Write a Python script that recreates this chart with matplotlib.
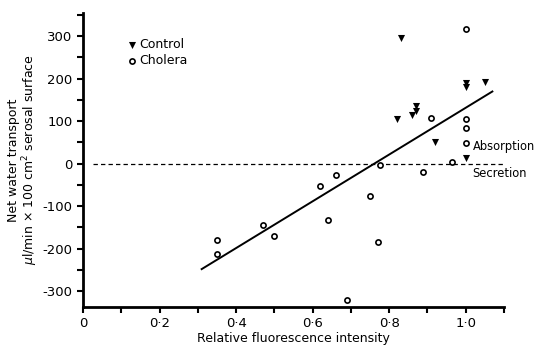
import numpy as np
import matplotlib
matplotlib.use("Agg")
import matplotlib.pyplot as plt

# values
control_x = [0.83, 1.00, 1.00, 1.05, 0.87, 0.87, 0.86, 0.82, 0.92, 1.00]
control_y = [297, 190, 180, 192, 135, 125, 114, 105, 52, 13]

cholera_x = [1.00, 1.00, 1.00, 1.00, 0.91, 0.965, 0.777, 0.888, 0.66, 0.62,
             0.75, 0.64, 0.50, 0.77, 0.69, 0.35, 0.35, 0.47]
cholera_y = [318, 105, 85, 49, 107, 4, -4, -20, -26, -53,
             -75, -133, -169, -184, -320, -179, -212, -145]

fit_x = [0.31, 1.07]
fit_y = [-248, 170]

x_ticks = [0, 0.1, 0.2, 0.3, 0.4, 0.5, 0.6, 0.7, 0.8, 0.9, 1.0, 1.1]
x_labels = ['0', '', '0·2', '', '0·4', '', '0·6', '', '0·8', '', '1·0', '']
y_ticks = [-300, -250, -200, -150, -100, -50, 0, 50, 100, 150, 200, 250, 300, 350]
y_labels = ['-300', '', '-200', '', '-100', '', '0', '', '100', '', '200', '', '300', '']

plt.rcParams['font.family'] = 'DejaVu Sans'
plt.rcParams['font.size'] = 9

fig = plt.figure(figsize=(5.36, 3.48), dpi=100)
ax = fig.add_axes([0.155, 0.118, 0.785, 0.845])

ax.plot([0.025, 1.097], [0, 0], color='black', linestyle=(0, (3.5, 2.5)), linewidth=0.9)
ax.plot(fit_x, fit_y, color='black', linewidth=1.4)

ax.scatter(control_x, control_y, marker='v', s=26, color='black', linewidths=0, zorder=3,
           label='Control')
ax.scatter(cholera_x, cholera_y, marker='o', s=14, facecolors='white', edgecolors='black',
           linewidths=1.2, zorder=3, label='Cholera')

ax.set_xlim(0, 1.1)
ax.set_ylim(-337, 355)
ax.set_xticks(x_ticks)
ax.set_xticklabels(x_labels)
ax.set_yticks(y_ticks)
ax.set_yticklabels(y_labels)
ax.tick_params(direction='out', length=4, width=1.5, labelsize=9.5)

for side in ['top', 'right']:
    ax.spines[side].set_visible(False)
for side in ['left', 'bottom']:
    ax.spines[side].set_linewidth(2)

ax.set_xlabel('Relative fluorescence intensity', fontsize=9, labelpad=1)
ax.set_ylabel('Net water transport\n$\\mu$l/min × 100 cm$^2$ serosal surface', fontsize=9,
              labelpad=2, linespacing=1.0)

ax.legend(loc='upper left', bbox_to_anchor=(0.09, 0.93), frameon=False, handletextpad=0.1,
          borderaxespad=0, labelspacing=0.2, fontsize=9, handlelength=1.0)

ax.text(1.02, 41, 'Absorption', fontsize=8.3, ha='left', va='center', clip_on=False)
ax.text(1.017, -24, 'Secretion', fontsize=8.3, ha='left', va='center', clip_on=False)

fig.savefig('out.png', dpi=100)
